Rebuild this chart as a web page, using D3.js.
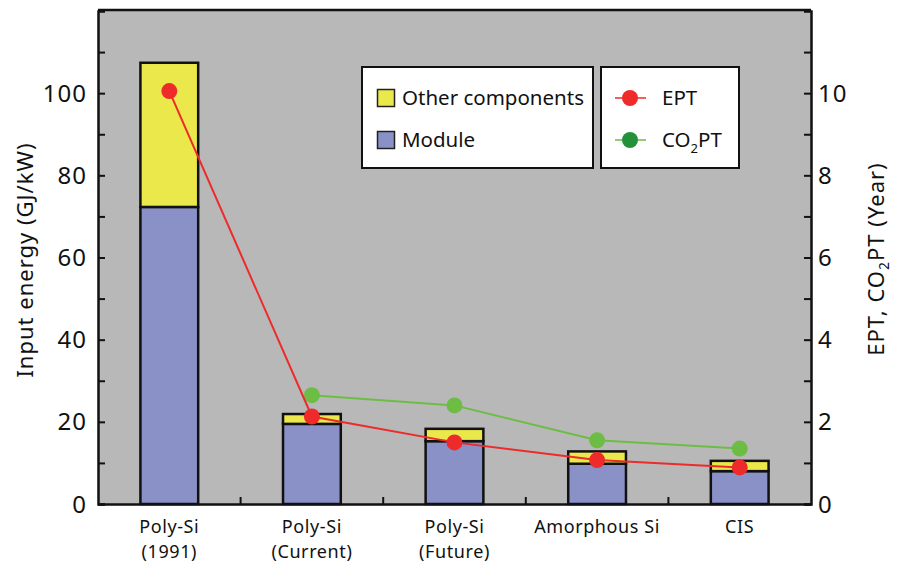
<!DOCTYPE html>
<html>
<head>
<meta charset="utf-8">
<script src="https://cdn.jsdelivr.net/npm/d3@7"></script>
<style>
  html, body { margin: 0; padding: 0; background: #ffffff; }
  svg { display: block; font-family: "Noto Sans", "DejaVu Sans", sans-serif; }
</style>
</head>
<body>
<svg id="chart" width="898" height="564"></svg>
<script>
// ---- data ----
const categories = [["Poly-Si", "(1991)"], ["Poly-Si", "(Current)"], ["Poly-Si", "(Future)"], ["Amorphous Si"], ["CIS"]];
const moduleEnergy = [72.3, 19.5, 15.3, 9.8, 8.0];
const otherEnergy = [35.1, 2.4, 3.0, 3.0, 2.5];
const eptYears = [10.05, 2.13, 1.5, 1.07, 0.89];
const co2ptYears = [null, 2.65, 2.4, 1.55, 1.35];
const leftTicks = [0, 20, 40, 60, 80, 100];
const leftMinor = [10, 30, 50, 70, 90, 110];
const rightTicks = [0, 2, 4, 6, 8, 10];
const rightMinor = [1, 3, 5, 7, 9, 11];

// ---- layout ----
const svg = d3.select("#chart");
const L = 98, R = 811, T = 10, B = 504;
const colors = { bg: "#b8b8b8", other: "#ebe84b", module: "#8a91c6", ept: "#ee2a2a", co2: "#6dbd45", co2Legend: "#22913a" };

const x = d3.scaleBand().domain(d3.range(categories.length)).range([L, R]).paddingInner(0).paddingOuter(0);
const yL = d3.scaleLinear().domain([0, 120]).range([B, T + 1]);
const yR = d3.scaleLinear().domain([0, 12]).range([B, T + 1]);
const barW = x.bandwidth() * 0.405;
const cx = i => x(i) + x.bandwidth() / 2;

// background
svg.append("rect").attr("x", L).attr("y", T).attr("width", R - L).attr("height", B - T).attr("fill", colors.bg);

// bars
const bars = svg.append("g");
categories.forEach((c, i) => {
  const total = moduleEnergy[i] + otherEnergy[i];
  bars.append("rect")
    .attr("x", cx(i) - barW / 2).attr("y", yL(moduleEnergy[i]))
    .attr("width", barW).attr("height", yL(0) - yL(moduleEnergy[i]))
    .attr("fill", colors.module).attr("stroke", "#111").attr("stroke-width", 2.5);
  bars.append("rect")
    .attr("x", cx(i) - barW / 2).attr("y", yL(total))
    .attr("width", barW).attr("height", yL(moduleEnergy[i]) - yL(total))
    .attr("fill", colors.other).attr("stroke", "#111").attr("stroke-width", 2.5);
});

// axes
const tickFont = 24;
const axisL = svg.append("g").attr("transform", `translate(${L},0)`)
  .call(d3.axisRight(yL).tickValues(leftTicks.concat(leftMinor)).tickSize(7).tickFormat(""));
const axisR = svg.append("g").attr("transform", `translate(${R},0)`)
  .call(d3.axisLeft(yR).tickValues(rightTicks.concat(rightMinor)).tickSize(7).tickFormat(""));
const axisB = svg.append("g").attr("transform", `translate(0,${B})`)
  .call(d3.axisTop(x).tickValues([]).tickSize(0).tickFormat(""));
[axisL, axisR, axisB].forEach(g => {
  g.selectAll(".domain").attr("stroke", "#111").attr("stroke-width", 2.5);
  g.selectAll(".tick line").attr("stroke", "#111").attr("stroke-width", 2);
});
// bottom ticks at band boundaries
const bounds = d3.range(1, categories.length).map(i => x(i));
svg.append("g").selectAll("line").data(bounds).join("line")
  .attr("x1", d => d).attr("x2", d => d).attr("y1", B).attr("y2", B - 7)
  .attr("stroke", "#111").attr("stroke-width", 2);
// top border
svg.append("line").attr("x1", L).attr("x2", R).attr("y1", T).attr("y2", T).attr("stroke", "#111").attr("stroke-width", 2.5);

// tick labels
svg.append("g").selectAll("text").data(leftTicks).join("text")
  .attr("x", L - 11).attr("y", d => yL(d)).attr("dy", "0.36em")
  .attr("text-anchor", "end").attr("font-size", tickFont).attr("letter-spacing", 1).attr("fill", "#111").text(d => d);
svg.append("g").selectAll("text").data(rightTicks).join("text")
  .attr("x", R + 7).attr("y", d => yR(d)).attr("dy", "0.36em")
  .attr("text-anchor", "start").attr("font-size", tickFont).attr("letter-spacing", 1).attr("fill", "#111").text(d => d);

// category labels
const catG = svg.append("g");
categories.forEach((lines, i) => {
  const t = catG.append("text").attr("text-anchor", "middle").attr("font-size", 18).attr("letter-spacing", 0.6).attr("fill", "#111");
  lines.forEach((ln, k) => {
    t.append("tspan").attr("x", cx(i)).attr("y", 533 + k * 24.5).text(ln);
  });
});

// axis titles
svg.append("text").attr("transform", `translate(32.5,260) rotate(-90)`)
  .attr("text-anchor", "middle").attr("font-size", 22).attr("letter-spacing", 1).attr("fill", "#111").text("Input energy (GJ/kW)");
const rt = svg.append("text").attr("transform", `translate(884,259) rotate(-90)`)
  .attr("text-anchor", "middle").attr("font-size", 22).attr("letter-spacing", 1).attr("fill", "#111");
rt.append("tspan").text("EPT, CO");
rt.append("tspan").attr("font-size", 14).attr("dy", 5).text("2");
rt.append("tspan").attr("dy", -5).text("PT (Year)");

// lines
const lineGen = d3.line().defined(d => d.v != null).x(d => cx(d.i)).y(d => yR(d.v));
const co2Data = co2ptYears.map((v, i) => ({ i, v }));
const eptData = eptYears.map((v, i) => ({ i, v }));
svg.append("path").datum(co2Data).attr("d", lineGen).attr("fill", "none").attr("stroke", colors.co2).attr("stroke-width", 2);
svg.append("g").selectAll("circle").data(co2Data.filter(d => d.v != null)).join("circle")
  .attr("cx", d => cx(d.i)).attr("cy", d => yR(d.v)).attr("r", 8).attr("fill", colors.co2);
svg.append("path").datum(eptData).attr("d", lineGen).attr("fill", "none").attr("stroke", colors.ept).attr("stroke-width", 2);
svg.append("g").selectAll("circle").data(eptData).join("circle")
  .attr("cx", d => cx(d.i)).attr("cy", d => yR(d.v)).attr("r", 8).attr("fill", colors.ept);

// legend 1 (bars)
const lg1 = svg.append("g");
lg1.append("rect").attr("x", 362).attr("y", 67).attr("width", 231).attr("height", 101).attr("fill", "#fff").attr("stroke", "#111").attr("stroke-width", 2);
[["Other components", colors.other, 98], ["Module", colors.module, 140]].forEach(([lab, col, yy]) => {
  lg1.append("rect").attr("x", 377.5).attr("y", yy - 8.5).attr("width", 17).attr("height", 17).attr("fill", col).attr("stroke", "#222").attr("stroke-width", 1.5);
  lg1.append("text").attr("x", 402).attr("y", yy).attr("dy", "0.36em").attr("font-size", 20.5).attr("fill", "#111").text(lab);
});
// legend 2 (lines)
const lg2 = svg.append("g");
lg2.append("rect").attr("x", 601).attr("y", 67).attr("width", 138).attr("height", 101).attr("fill", "#fff").attr("stroke", "#111").attr("stroke-width", 2);
[["EPT", colors.ept, colors.ept, 98], ["CO2PT", colors.co2, colors.co2Legend, 140]].forEach(([lab, lc, mc, yy]) => {
  lg2.append("line").attr("x1", 615).attr("x2", 646).attr("y1", yy).attr("y2", yy).attr("stroke", lc).attr("stroke-width", 1.5);
  lg2.append("circle").attr("cx", 630).attr("cy", yy).attr("r", 8).attr("fill", mc);
  const t = lg2.append("text").attr("x", 662).attr("y", yy).attr("dy", "0.36em").attr("font-size", 20.5).attr("fill", "#111");
  if (lab === "CO2PT") {
    t.append("tspan").text("CO");
    t.append("tspan").attr("font-size", 13).attr("dy", 6).text("2");
    t.append("tspan").attr("dy", -6).text("PT");
  } else {
    t.text(lab);
  }
});
</script>
</body>
</html>
